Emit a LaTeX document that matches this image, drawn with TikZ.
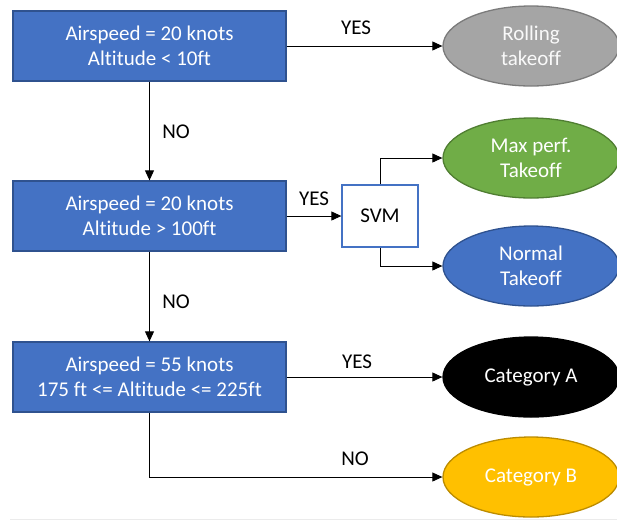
\documentclass[tikz,border=0pt]{standalone}
\usepackage{fontspec}
\setmainfont{Carlito}[Ligatures={NoCommon}]
\usetikzlibrary{arrows.meta,shapes.geometric}
\definecolor{boxblue}{HTML}{4472C4}
\definecolor{boxedge}{HTML}{2F528F}
\definecolor{ellgray}{HTML}{A5A5A5}
\definecolor{ellgrayedge}{HTML}{7B7B7B}
\definecolor{ellgreen}{HTML}{70AD47}
\definecolor{ellgreenedge}{HTML}{507E32}
\definecolor{ellyellow}{HTML}{FFC000}
\definecolor{ellyellowedge}{HTML}{BC8C00}
\tikzset{
  txt/.style={font=\fontsize{21}{25}\selectfont, align=center},
  decbox/.style={txt, draw=boxedge, fill=boxblue, text=white, line width=1.3pt,
    minimum width=273pt, minimum height=70pt, inner sep=0pt},
  svmbox/.style={txt, draw=boxblue, fill=white, text=black, line width=1.3pt,
    minimum width=76pt, minimum height=62pt, inner sep=0pt},
  outell/.style={txt, ellipse, line width=1.3pt, text=white,
    minimum width=176pt, minimum height=80pt, inner sep=0pt},
  conn/.style={line width=0.9pt, -{Triangle[length=10pt,width=9pt]}},
  lbl/.style={txt, text=black}
}
\begin{document}
\begin{tikzpicture}[x=1pt,y=-1pt]
\useasboundingbox (0,0) rectangle (617,523);
\fill[white] (0,0) rectangle (617,523);
\node[decbox] (b1) at (149.5,46) {Airspeed = 20 knots\\Altitude < 10ft};
\node[decbox] (b2) at (149.5,216) {Airspeed = 20 knots\\Altitude > 100ft};
\node[decbox] (b3) at (149.5,377) {Airspeed = 55 knots\\175 ft <= Altitude <= 225ft};
\node[svmbox] (svm) at (380,216) {SVM};
\node[outell, draw=ellgrayedge, fill=ellgray, text=white!95!gray] (roll) at (531,46) {Rolling\\takeoff};
\node[outell, draw=ellgreenedge, fill=ellgreen] (maxp) at (531,158) {Max perf.\\Takeoff};
\node[outell, draw=boxedge, fill=boxblue] (norm) at (531,266) {Normal\\Takeoff};
\node[outell, draw=black, fill=black] (cata) at (531,377) {Category A};
\node[outell, draw=ellyellowedge, fill=ellyellow] (catb) at (531,477) {Category B};
\draw[conn] (b1.east) -- (roll.west);
\draw[conn] (b1.south) -- (b2.north);
\draw[conn] (b2.east) -- (svm.west);
\draw[conn] (svm.north) |- (maxp.west);
\draw[conn] (svm.south) |- (norm.west);
\draw[conn] (b2.south) -- (b3.north);
\draw[conn] (b3.east) -- (cata.west);
\draw[conn] (b3.south) |- (catb.west);
\node[lbl] (y1) at (356,28) {YES};
\node[lbl] (n1) at (176,132) {NO};
\node[lbl] (y2) at (314,199) {YES};
\node[lbl] (n2) at (176,302) {NO};
\node[lbl] (y3) at (357,362) {YES};
\node[lbl] (n3) at (355,459) {NO};
\coordinate (bl) at (10,519);
\coordinate (br) at (617,519);
\draw[black!8, line width=1pt] (bl) -- (br);
\end{tikzpicture}
\end{document}
